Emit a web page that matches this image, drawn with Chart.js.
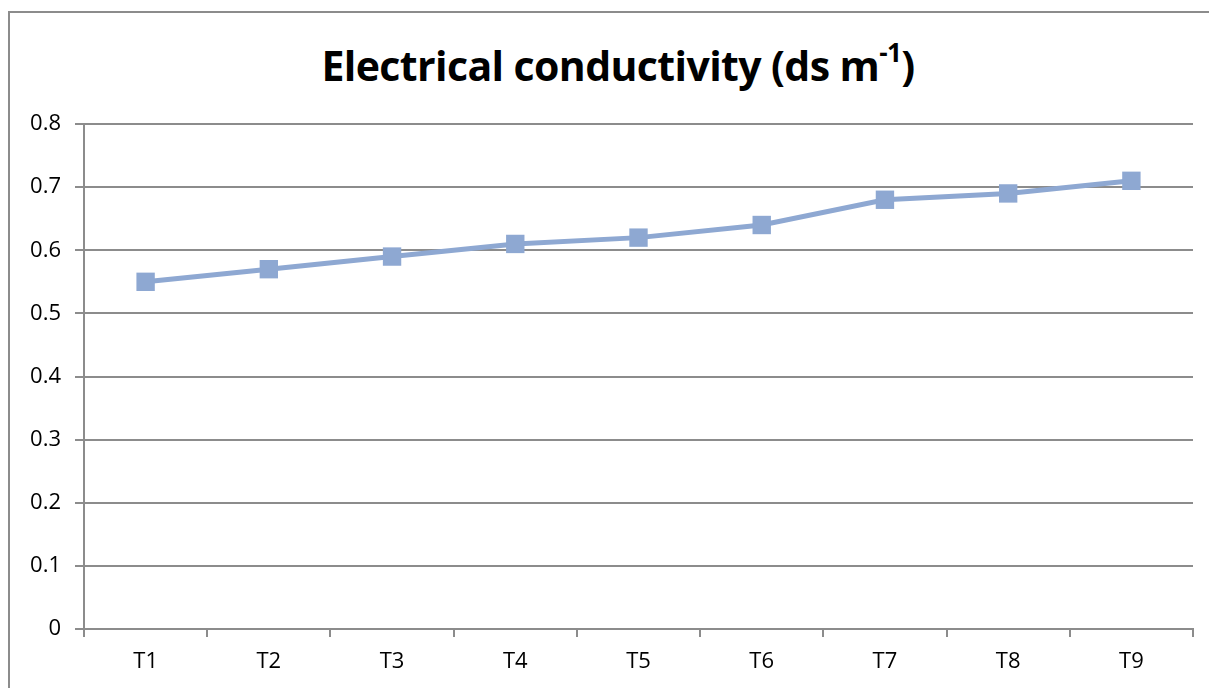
<!DOCTYPE html>
<html>
<head>
<meta charset="utf-8">
<script src="https://cdn.jsdelivr.net/npm/chart.js@4"></script>
<style>
    html, body { margin: 0; padding: 0; background: #fff; overflow: hidden; }
    #wrap { position: relative; width: 1209px; height: 688px; }
    #frame {
        position: absolute; left: 8px; top: 11px; width: 1400px; height: 900px;
        border: 2px solid #8c8c8c; box-sizing: border-box;
    }
    #title {
        position: absolute; left: 0; top: 37px; width: 1236px; text-align: center;
        font-family: "Open Sans", sans-serif; font-weight: bold; font-size: 41px; color: #000;
        letter-spacing: -0.6px;
    }
    #title sup { font-size: 26px; position: relative; top: -4px; }
    canvas { position: absolute; left: 0; top: 0; }
</style>
</head>
<body>
<div id="wrap">
    <div id="frame"></div>
    <div id="title">Electrical conductivity (ds m<sup>-1</sup>)</div>
    <canvas id="ecChart" width="1209" height="688"></canvas>
</div>
<script>
    var categories = ['T1', 'T2', 'T3', 'T4', 'T5', 'T6', 'T7', 'T8', 'T9'];
    var ecValues = [0.55, 0.57, 0.59, 0.61, 0.62, 0.64, 0.68, 0.69, 0.71];
    var yTicks = [0, 0.1, 0.2, 0.3, 0.4, 0.5, 0.6, 0.7, 0.8];

    var lineColor = '#8ea8d2';
    var gridColor = '#8c8c8c';

    var ctx = document.getElementById('ecChart');
    var chart = new Chart(ctx, {
        type: 'line',
        data: {
            labels: categories,
            datasets: [{
                data: ecValues,
                borderColor: lineColor,
                backgroundColor: lineColor,
                borderWidth: 5,
                pointStyle: 'rect',
                pointRadius: 13,
                pointBorderWidth: 0,
                tension: 0
            }]
        },
        options: {
            responsive: false,
            animation: false,
            layout: { padding: { left: 0, top: 124, right: 16, bottom: 0 } },
            plugins: {
                legend: { display: false },
                title: { display: false },
                tooltip: { enabled: false }
            },
            scales: {
                x: {
                    offset: true,
                    grid: {
                        offset: true,
                        drawOnChartArea: false,
                        drawTicks: true,
                        tickLength: 8,
                        color: gridColor,
                        lineWidth: 2
                    },
                    border: { color: gridColor, width: 2 },
                    ticks: {
                        color: '#000',
                        padding: 12,
                        font: { family: 'Open Sans', size: 22 }
                    },
                    afterFit: function (s) { s.height = 59; }
                },
                y: {
                    min: 0,
                    max: 0.8,
                    afterBuildTicks: function (s) {
                        s.ticks = yTicks.map(function (v) { return { value: v }; });
                    },
                    grid: {
                        color: gridColor,
                        lineWidth: 2,
                        tickLength: 9
                    },
                    border: { color: gridColor, width: 2 },
                    ticks: {
                        color: '#000',
                        padding: 14,
                        font: { family: 'Open Sans', size: 22 },
                        callback: function (v) { return String(Math.round(v * 10) / 10); }
                    },
                    afterFit: function (s) { s.width = 84; }
                }
            }
        }
    });
</script>
</body>
</html>
